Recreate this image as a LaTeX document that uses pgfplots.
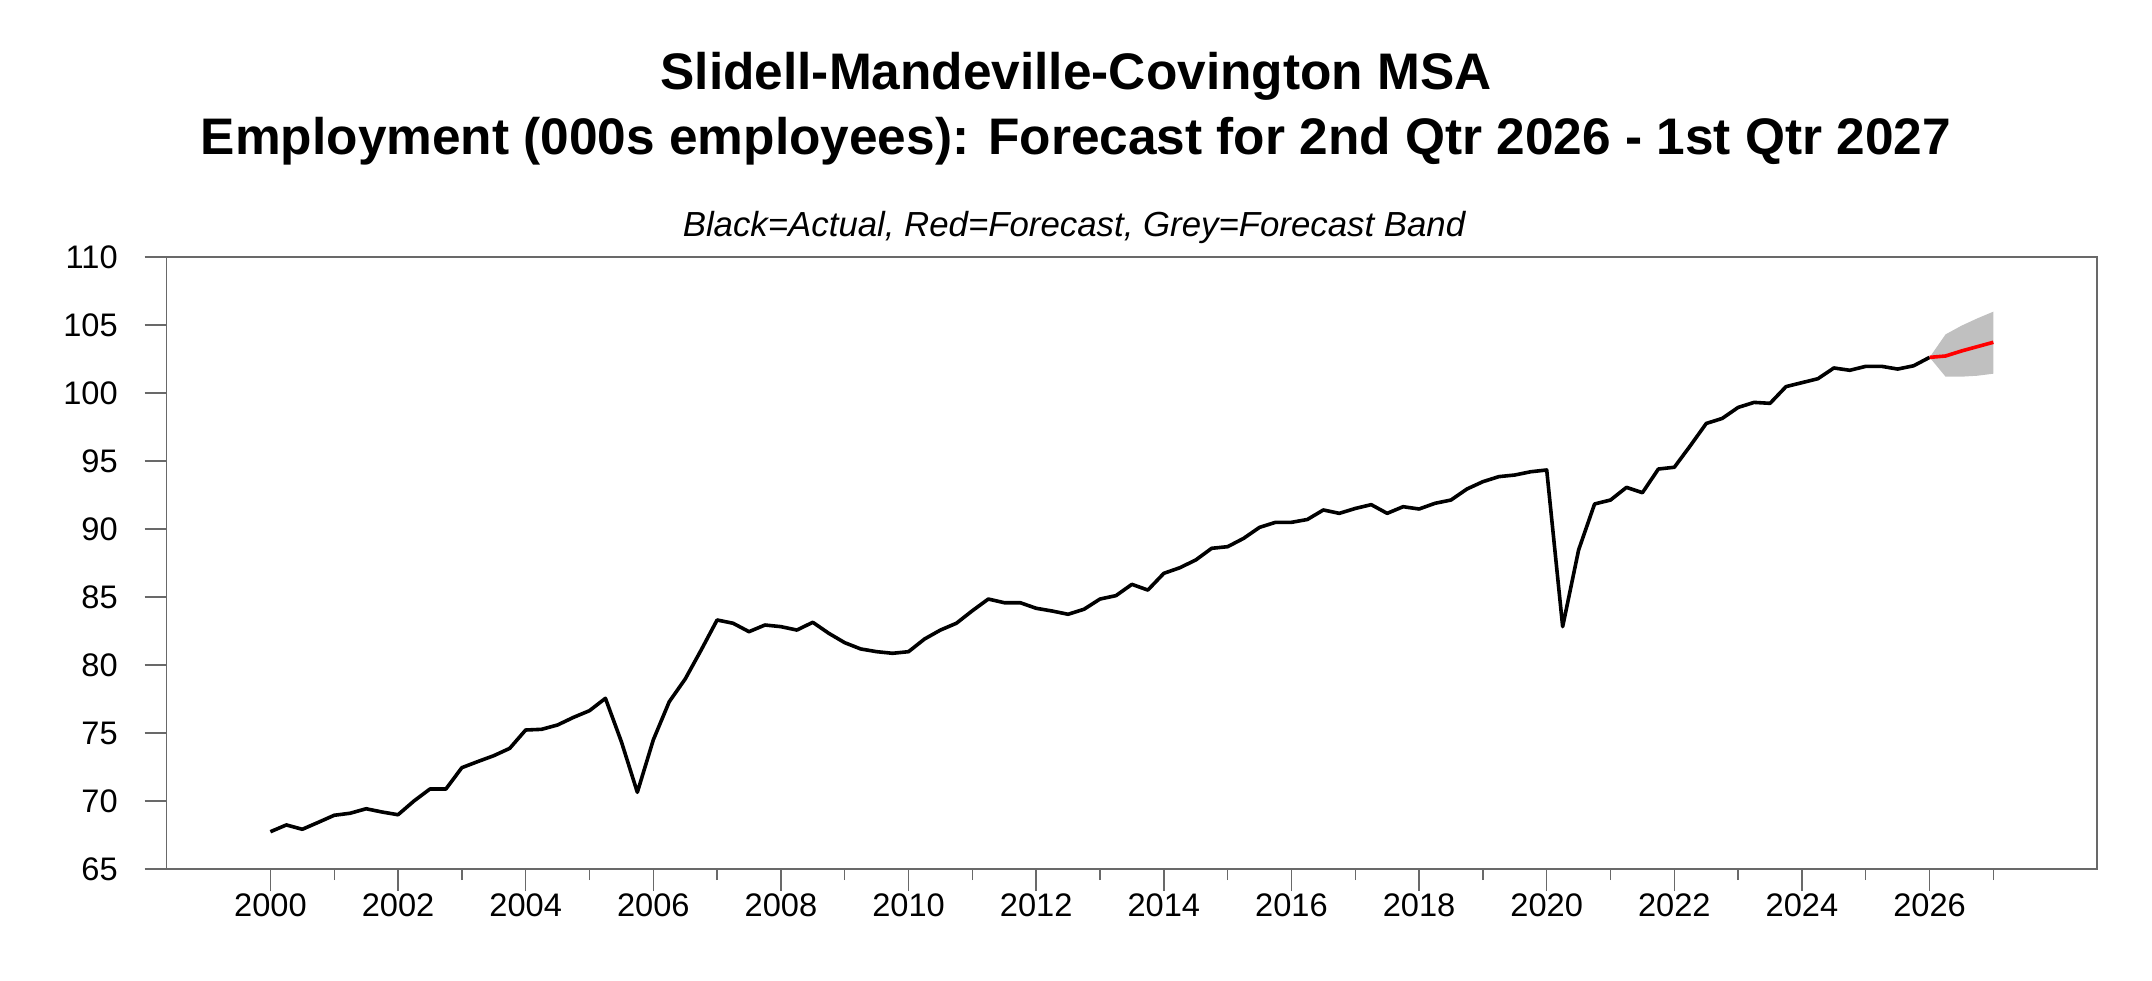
\documentclass[border=0pt]{standalone}
\usepackage{fontspec}
\setmainfont{Liberation Sans}
\usepackage{pgfplots}
\pgfplotsset{compat=1.18}
\usepackage{pgfplotstable}

\definecolor{bandgray}{RGB}{192,192,192}
\definecolor{axisgray}{RGB}{105,105,105}

% quarter index t (0 = 2000 Q1), employment in 000s
\pgfplotstableread{
t v
0 67.74
1 68.24
2 67.92
3 68.43
4 68.95
5 69.10
6 69.43
7 69.19
8 68.99
9 70.00
10 70.88
11 70.88
12 72.45
13 72.90
14 73.33
15 73.87
16 75.22
17 75.27
18 75.59
19 76.15
20 76.64
21 77.55
22 74.36
23 70.64
24 74.49
25 77.30
26 78.97
27 81.10
28 83.31
29 83.07
30 82.45
31 82.94
32 82.82
33 82.57
34 83.14
35 82.33
36 81.64
37 81.18
38 80.98
39 80.86
40 80.98
41 81.91
42 82.57
43 83.07
44 83.99
45 84.85
46 84.58
47 84.58
48 84.17
49 83.97
50 83.73
51 84.10
52 84.85
53 85.10
54 85.93
55 85.51
56 86.74
57 87.15
58 87.72
59 88.58
60 88.70
61 89.31
62 90.12
63 90.49
64 90.49
65 90.70
66 91.40
67 91.15
68 91.51
69 91.79
70 91.15
71 91.64
72 91.47
73 91.89
74 92.13
75 92.94
76 93.48
77 93.85
78 93.97
79 94.21
80 94.34
81 82.82
82 88.46
83 91.84
84 92.13
85 93.06
86 92.67
87 94.41
88 94.54
89 96.12
90 97.76
91 98.13
92 98.94
93 99.31
94 99.24
95 100.47
96 100.76
97 101.05
98 101.84
99 101.67
100 101.96
101 101.96
102 101.76
103 102.00
104 102.62
}\actual

% forecast (red line)
\pgfplotstableread{
t fc
104 102.62
105 102.72
106 103.09
107 103.41
108 103.73
}\forecast

% forecast band outline: upper edge forward, lower edge back
\pgfplotstableread{
t b
104 102.62
105 104.31
106 104.95
107 105.49
108 105.98
108 101.42
107 101.27
106 101.20
105 101.20
104 102.62
}\band

\begin{document}
\begin{tikzpicture}
\useasboundingbox (0,0) rectangle (1076pt,490pt);

\node[anchor=base, inner sep=0pt, font=\bfseries\fontsize{25.7}{30}\selectfont]
  at (538pt,445.4pt) {Slidell-Mandeville-Covington MSA};
\node[anchor=base, inner sep=0pt, font=\bfseries\fontsize{25.7}{30}\selectfont]
  at (538pt,412.5pt) {Employment (000s employees): Forecast for 2nd Qtr 2026 - 1st Qtr 2027};
\node[anchor=base, inner sep=0pt, font=\itshape\fontsize{17.4}{21}\selectfont]
  at (537pt,371.7pt) {Black=Actual, Red=Forecast, Grey=Forecast Band};

\begin{axis}[
    at={(83.35pt,55.5pt)}, anchor=south west,
    scale only axis, width=965.2pt, height=306pt,
    xmin=1998.375, xmax=2028.625,
    ymin=65, ymax=110,
    xtick={2000,2002,...,2026},
    minor xtick={2001,2003,...,2027},
    ytick={65,70,...,110},
    xtick pos=bottom, ytick pos=left,
    tick align=outside,
    major tick length=11pt, minor tick length=5.5pt,
    axis line style={axisgray, line width=0.7pt},
    tick style={axisgray, line width=0.7pt},
    tick label style={font=\fontsize{16.3}{19}\selectfont},
    /pgf/number format/assume math mode=true,
    x tick label style={/pgf/number format/1000 sep={}, yshift=2pt},
    y tick label style={xshift=-10pt},
]
\addplot[fill=bandgray, draw=none]
  table[x expr=2000+\thisrow{t}/4, y=b] {\band} -- cycle;
\addplot[black, line width=1.8pt, line join=round, mark=none]
  table[x expr=2000+\thisrow{t}/4, y=v] {\actual};
\addplot[red, line width=1.8pt, line join=round, mark=none]
  table[x expr=2000+\thisrow{t}/4, y=fc] {\forecast};
\end{axis}
\end{tikzpicture}
\end{document}
